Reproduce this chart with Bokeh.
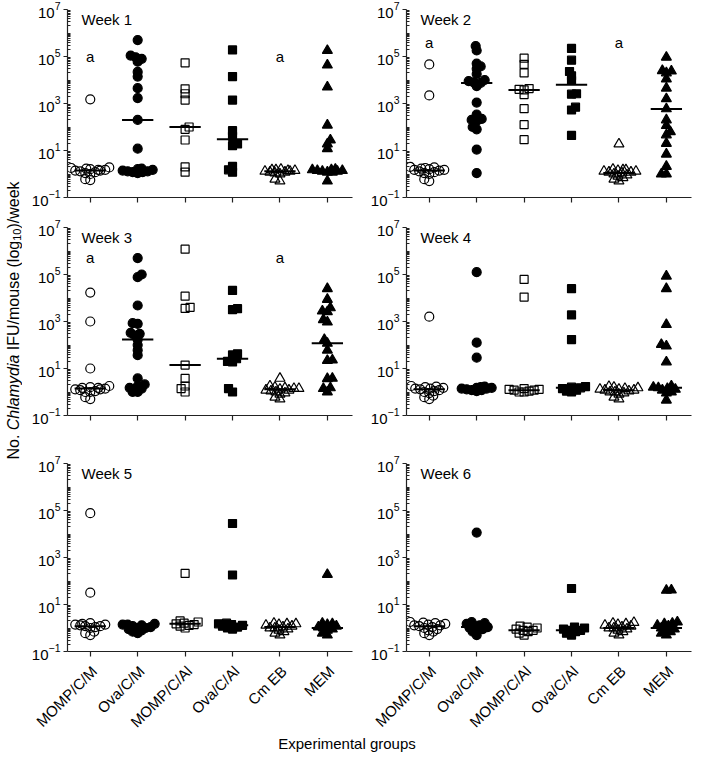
import numpy as np
from bokeh.plotting import figure
from bokeh.layouts import row, column
from bokeh.models import FixedTicker, Range1d
from bokeh.core.properties import value
from bokeh.embed import file_html
from bokeh.resources import INLINE

groups = ["MOMP/C/M", "Ova/C/M", "MOMP/C/Al", "Ova/C/Al", "Cm EB", "MEM"]

week1 = [
    [1500, 1.9, 1.8, 1.7, 1.6, 1.5, 1.5, 1.4, 1.4, 1.3, 1.2, 1.1, 1.0, 0.6, 0.55],
    [5e5, 1.1e5, 9.3e4, 8e4, 6e4, 2.2e4, 1.4e4, 4.5e3, 1.7e3, 200, 12, 1.7, 1.6, 1.5, 1.4, 1.3, 1.3, 1.2, 1.2, 1.1],
    [5.4e4, 4.2e3, 2.6e3, 1.4e3, 100, 80, 28, 2.0, 1.2],
    [1.9e5, 1.4e4, 1.4e3, 70, 40, 19, 16, 2.1, 1.5, 1.2],
    [1.6, 1.5, 1.5, 1.4, 1.4, 1.3, 1.3, 1.2, 1.2, 1.1, 1.0, 0.6, 0.5],
    [1.8e5, 4.3e4, 5e3, 120, 28, 19, 12, 1.6, 1.5, 1.5, 1.4, 1.4, 1.3, 1.3, 1.2, 1.2, 0.5],
]
week2 = [
    [4.6e4, 2.2e3, 2.0, 1.9, 1.8, 1.7, 1.6, 1.5, 1.5, 1.4, 1.3, 1.2, 1.1, 1.0, 0.6, 0.5],
    [2.8e5, 1.8e5, 5e4, 3.8e4, 3e4, 1.8e4, 1.0e4, 9e3, 8e3, 7.5e3, 5.5e3, 1.1e3, 340, 220, 200, 180, 100, 80, 11, 1.1],
    [8.5e4, 4.6e4, 2e4, 4.3e3, 4e3, 3.8e3, 2.4e3, 600, 125, 29],
    [2.2e5, 7e4, 2.3e4, 1.5e4, 9.5e3, 2.6e3, 2.5e3, 700, 530, 44],
    [19, 1.6, 1.5, 1.5, 1.4, 1.3, 1.3, 1.2, 1.2, 1.1, 1.0, 0.9, 0.8, 0.7, 0.6, 0.5],
    [9.3e4, 2.5e4, 2.4e4, 2e4, 1.1e4, 4.5e3, 1.6e3, 590, 200, 115, 63, 46, 20, 7, 2.1, 1.0, 1.0],
]
week3 = [
    [1.7e4, 1e3, 10, 1.8, 1.6, 1.5, 1.5, 1.4, 1.3, 1.3, 1.2, 1.1, 1.0, 1.0, 0.6, 0.5],
    [5e5, 1e5, 7.7e4, 4.8e3, 850, 800, 330, 300, 250, 170, 100, 60, 37, 3.8, 2.1, 1.8, 1.5, 1.4, 1.0, 1.0],
    [1.2e6, 1.2e4, 4e3, 3.6e3, 14, 3.8, 1.8, 1.4, 1.0],
    [2.1e4, 3.5e3, 3.2e3, 42, 38, 26, 20, 19, 1.4, 1.0],
    [3.8, 1.8, 1.6, 1.5, 1.4, 1.4, 1.3, 1.2, 1.2, 1.1, 1.0, 0.9, 0.8, 0.6, 0.5],
    [2.5e4, 8.7e3, 3.8e3, 2.8e3, 2.6e3, 1.2e3, 940, 170, 118, 60, 23, 22, 3.8, 3.7, 1.5, 1.4, 1.0],
]
week4 = [
    [1.6e3, 1.8, 1.7, 1.6, 1.5, 1.4, 1.4, 1.3, 1.2, 1.1, 1.0, 0.9, 0.7, 0.6, 0.5],
    [1.25e5, 125, 29, 1.7, 1.6, 1.5, 1.5, 1.4, 1.4, 1.3, 1.2, 1.2, 1.1],
    [6.2e4, 1.1e4, 1.4, 1.3, 1.3, 1.2, 1.2, 1.1, 1.0, 1.0],
    [2.5e4, 1.9e3, 170, 1.7, 1.6, 1.5, 1.4, 1.2, 1.1, 1.0],
    [1.7, 1.6, 1.5, 1.4, 1.3, 1.3, 1.2, 1.2, 1.1, 1.0, 1.0, 0.9, 0.8, 0.6, 0.5],
    [8.5e4, 2.5e4, 740, 105, 90, 19, 1.8, 1.6, 1.5, 1.4, 1.3, 1.2, 1.0, 0.9, 0.45],
]
week5 = [
    [7.7e4, 32, 1.6, 1.5, 1.4, 1.4, 1.3, 1.2, 1.2, 1.1, 1.0, 0.7, 0.6, 0.5],
    [1.5, 1.4, 1.4, 1.3, 1.2, 1.1, 1.0, 1.0, 0.9, 0.8, 0.7, 0.6],
    [210, 2.0, 1.8, 1.6, 1.5, 1.4, 1.3, 1.2, 1.0],
    [2.8e4, 180, 1.6, 1.5, 1.4, 1.3, 1.2, 1.1, 1.0, 0.9],
    [1.6, 1.5, 1.5, 1.4, 1.3, 1.2, 1.1, 1.0, 1.0, 0.9, 0.8, 0.7, 0.6, 0.5],
    [190, 1.6, 1.5, 1.4, 1.2, 1.1, 1.0, 0.9, 0.8, 0.6, 0.5],
]
week6 = [
    [1.8, 1.7, 1.6, 1.5, 1.4, 1.3, 1.3, 1.2, 1.1, 1.0, 0.9, 0.8, 0.7, 0.6, 0.5],
    [1.15e4, 1.8, 1.6, 1.5, 1.3, 1.2, 1.1, 1.0, 0.9, 0.8, 0.7, 0.5],
    [1.2, 1.1, 1.0, 0.9, 0.8, 0.8, 0.7, 0.6, 0.5],
    [48, 1.1, 1.0, 0.9, 0.8, 0.8, 0.7, 0.6, 0.5],
    [1.7, 1.6, 1.5, 1.4, 1.3, 1.2, 1.1, 1.0, 1.0, 0.9, 0.8, 0.7, 0.6, 0.5],
    [41, 40, 1.8, 1.6, 1.5, 1.3, 1.2, 1.0, 0.9, 0.8, 0.7, 0.6, 0.5],
]
weeks = [week1, week2, week3, week4, week5, week6]

med1 = [1.4, 200, 100, 30, 1.3, 1.4]
med2 = [1.4, 7.5e3, 3.8e3, 6.3e3, 1.1, 590]
med3 = [1.4, 170, 14, 26, 1.3, 120]
med4 = [1.3, 1.4, 1.2, 1.5, 1.2, 1.5]
med5 = [1.2, 1.1, 1.5, 1.3, 1.1, 1.0]
med6 = [1.2, 1.1, 0.8, 0.8, 1.0, 1.0]
medians = [med1, med2, med3, med4, med5, med6]

# significance letters: week -> height
sig_groups = [0, 4]
sig_height = {1: 1.0e5, 2: 4.0e5, 3: 5.5e5}

major_ticks = [1e-1, 1e1, 1e3, 1e5, 1e7]

FONT = "Liberation Sans"
FW, FH = 285, 188
PX_DEC = FH / 8.0
XR = (-0.48, 5.53)
PX_UNIT = FW / (XR[1] - XR[0])
BL = 45                 # left border of each panel
BR = [9, 2]             # right border of left / right panel

STYLES = [
    ("circle", False, 9), ("circle", True, 9),
    ("square", False, 8), ("square", True, 8),
    ("triangle", False, 10), ("triangle", True, 10),
]


def swarm(vals, dmin=4.6, maxw=19):
    ys = np.log10(np.asarray(vals, dtype=float)) * PX_DEC
    xs = np.zeros(len(ys))
    placed = []
    for n, i in enumerate(np.argsort(ys, kind="stable")):
        y = ys[i]
        best = None
        for k in range(0, maxw + 1):
            cands = (0.0,) if k == 0 else ((k, -k) if n % 2 == 0 else (-k, k))
            for c in cands:
                if all((c - px) ** 2 + (y - py) ** 2 >= dmin ** 2 for px, py in placed):
                    best = c
                    break
            if best is not None:
                break
        if best is None:
            best = float(((n % 5) - 2) * 4)
        xs[i] = best
        placed.append((best, y))
    return xs / PX_UNIT


minor = []
for k in range(-1, 7):
    for m in range(1, 10):
        v = m * 10.0 ** k
        if v not in major_ticks and v <= 1e7:
            minor.append(v)

BORDERS = [(9, 14), (16, 16), (32, 11)]


def bare(width, height, xr, yr):
    f = figure(width=width, height=height, x_range=xr, y_range=yr,
               output_backend="svg", toolbar_location=None, title=None,
               min_border=0, min_border_left=0, min_border_right=0,
               min_border_top=0, min_border_bottom=0,
               x_axis_location=None, y_axis_location=None)
    f.outline_line_color = None
    f.grid.visible = False
    f.background_fill_color = "white"
    f.border_fill_color = "white"
    return f


def panel(w, r, c):
    vals_list = weeks[w - 1]
    meds = medians[w - 1]
    top, bot = BORDERS[r]
    p = figure(frame_width=FW, frame_height=FH, title=None,
               x_range=Range1d(*XR), y_range=Range1d(0.1, 1e7),
               y_axis_type="log", output_backend="svg", toolbar_location=None,
               min_border_left=BL, min_border_right=BR[c],
               min_border_top=top, min_border_bottom=bot)
    p.outline_line_color = None
    p.xgrid.visible = False
    p.ygrid.visible = False
    p.background_fill_color = "white"
    p.border_fill_color = "white"

    yax = p.yaxis[0]
    yax.ticker = FixedTicker(ticks=major_ticks, minor_ticks=minor)
    yax.major_label_text_font = FONT
    yax.major_label_text_font_size = "15px"
    yax.major_label_text_color = "black"
    yax.major_tick_in = 0
    yax.major_tick_out = 4
    yax.minor_tick_in = 3
    yax.minor_tick_out = 0
    yax.axis_line_width = 1.2
    yax.axis_line_color = "#222222"
    yax.major_tick_line_color = "#222222"
    yax.minor_tick_line_color = "#222222"
    yax.major_tick_line_width = 1.2
    yax.major_label_standoff = 3

    xax = p.xaxis[0]
    xax.ticker = FixedTicker(ticks=list(range(len(groups))), minor_ticks=[])
    xax.axis_line_width = 1.2
    xax.axis_line_color = "#222222"
    xax.major_tick_line_color = "#222222"
    xax.major_tick_line_width = 1.2
    xax.major_tick_in = 0
    xax.major_tick_out = 5
    xax.major_label_overrides = {i: "" for i in range(len(groups))}
    xax.major_label_text_font_size = "0px"
    xax.major_label_standoff = 0

    for gi, vals in enumerate(vals_list):
        marker, filled, size = STYLES[gi]
        xs = gi + swarm(vals)
        p.scatter(xs, vals, marker=marker, size=size,
                  line_color="black", line_width=1.2,
                  fill_color="black" if filled else None,
                  fill_alpha=1.0 if filled else 0.0)
    gx = np.arange(len(groups))
    p.segment(x0=gx - 0.33, x1=gx + 0.33, y0=meds, y1=meds,
              line_color="black", line_width=2)

    p.text(x=[XR[0]], y=[1e7], text=[f"Week {w}"], x_offset=14, y_offset=1,
           text_align="left", text_baseline="top",
           text_font=value(FONT), text_font_size="15px", text_color="black")
    if w in sig_height:
        p.text(x=sig_groups, y=[sig_height[w]] * len(sig_groups),
               text=["a"] * len(sig_groups), text_align="center",
               text_baseline="middle", text_font=value(FONT),
               text_font_size="15px", text_color="black")
    return p


figs = []
for r in range(3):
    figs.append([panel(2 * r + 1, r, 0), panel(2 * r + 2, r, 1)])

row_heights = [t + FH + b for t, b in BORDERS]
total_h = sum(row_heights)
col_w = [BL + FW + BR[0], BL + FW + BR[1]]
YL_W = 22

# category labels under the bottom panels: strips sharing each panel's x scale
STRIP_H = 69
strips = []
for c in range(2):
    xr = Range1d(XR[0] - BL / PX_UNIT, XR[1] + BR[c] / PX_UNIT)
    s = bare(col_w[c], STRIP_H, xr, Range1d(0, STRIP_H))
    s.text(x=list(range(len(groups))), y=[STRIP_H - 6] * len(groups),
           text=groups, angle=np.pi / 4, x_offset=4,
           text_align="right", text_baseline="middle",
           text_font=value(FONT), text_font_size="15px", text_color="black")
    strips.append(s)

# y axis label, built from segments (italic genus name, subscript 10)
AW = {' ': 278, '(': 333, ')': 333, '.': 278, '/': 278, '0': 556, '1': 556,
      'C': 722, 'F': 611, 'I': 278, 'N': 722, 'U': 722, 'a': 556, 'd': 556,
      'e': 556, 'g': 556, 'h': 556, 'i': 222, 'k': 500, 'l': 222, 'm': 833,
      'o': 556, 's': 500, 'u': 556, 'w': 722, 'y': 500}


def tw(s, size):
    return sum(AW.get(ch, 556) for ch in s) * size / 1000.0


# (text, style, size, baseline shift, space advance after)
segments = [("No.", "normal", 16, 0, 1), ("Chlamydia", "italic", 16, 0, 1),
            ("IFU/mouse (log", "normal", 16, 0, 0), ("10", "normal", 11, 3, 0),
            (")/week", "normal", 16, 0, 0)]

YL_H = total_h + STRIP_H
yl = bare(YL_W, YL_H, Range1d(0, YL_W), Range1d(0, YL_H))
adv = [tw(s, sz) + sp * tw(" ", 16) for s, _, sz, _, sp in segments]
total_len = sum(adv)
center = YL_H - 320.0
pos = center - total_len / 2.0
for (s, style, sz, dx, sp), a in zip(segments, adv):
    yl.text(x=[13 + dx], y=[pos], text=[s], angle=np.pi / 2,
            text_align="left", text_baseline="alphabetic",
            text_font=value(FONT), text_font_style=style,
            text_font_size=f"{sz}px", text_color="black")
    pos += a

TOTAL_W = YL_W + col_w[0] + col_w[1]
XL_H = 22
xl = figure(width=TOTAL_W, height=XL_H, x_range=Range1d(0, 1),
            y_range=Range1d(0, 1), output_backend="svg",
            toolbar_location=None, title=None,
            min_border=0, min_border_left=0, min_border_right=0,
            min_border_top=0, min_border_bottom=0, y_axis_location=None)
xl.outline_line_color = None
xl.grid.visible = False
xa = xl.xaxis[0]
xa.axis_line_color = None
xa.major_tick_line_color = None
xa.minor_tick_line_color = None
xa.major_tick_in = 0
xa.major_tick_out = 0
xa.minor_tick_in = 0
xa.minor_tick_out = 0
xa.ticker = FixedTicker(ticks=[], minor_ticks=[])
xa.major_label_text_font_size = "0px"
xa.major_label_standoff = 0
xa.axis_label = "Experimental groups"
xa.axis_label_standoff = 3
xa.axis_label_text_font = FONT
xa.axis_label_text_font_size = "15px"
xa.axis_label_text_font_style = "normal"
xa.axis_label_text_color = "black"

grid = column(*[row(a, b) for a, b in figs], row(*strips))
layout = column(row(yl, grid), xl)

open("out.html", "w").write(file_html(layout, INLINE))
